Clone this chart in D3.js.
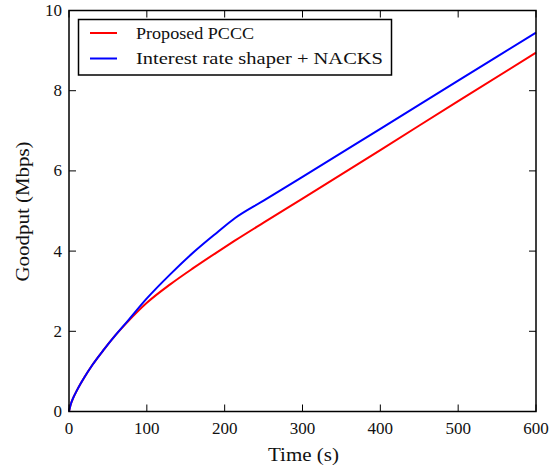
<!DOCTYPE html>
<html><head><meta charset="utf-8">
<script src="https://cdn.jsdelivr.net/npm/d3@7"></script>
<style>body{margin:0;background:#fff}svg{display:block}text{font-family:"Liberation Serif","Times New Roman",serif;fill:#111}</style>
</head><body>
<script>
const time  = [0, 2, 5, 10, 20, 30, 45, 60, 75, 100, 130, 160, 190, 213, 250, 300, 400, 500, 600];
const pccc  = [0, 0.16, 0.32, 0.52, 0.86, 1.16, 1.55, 1.91, 2.23, 2.71, 3.17, 3.58, 3.97, 4.26, 4.71, 5.31, 6.52, 7.74, 8.95];
const shaper= [0, 0.16, 0.32, 0.52, 0.86, 1.16, 1.55, 1.91, 2.25, 2.82, 3.42, 3.97, 4.46, 4.82, 5.26, 5.85, 7.05, 8.25, 9.45];
const seriesNames = ["Proposed PCCC", "Interest rate shaper + NACKS"];
const seriesColors = ["#ff0000", "#0000ff"];
const xTicks = [0, 100, 200, 300, 400, 500, 600];
const yTicks = [0, 2, 4, 6, 8, 10];

const W = 559, H = 468;
const m = {l: 69, r: 23, t: 10.5, b: 56.5};
const svg = d3.select("body").append("svg").attr("width", W).attr("height", H);
const x = d3.scaleLinear().domain([0, 600]).range([m.l, W - m.r]);
const y = d3.scaleLinear().domain([0, 10]).range([H - m.b, m.t]);
const fs = 17;

// lines
const series = [pccc, shaper];
const line = d3.line().x((d, i) => x(time[i])).y(d => y(d)).curve(d3.curveMonotoneX);
series.forEach((s, k) => {
  svg.append("path").datum(s).attr("d", line).attr("fill", "none")
    .attr("stroke", seriesColors[k]).attr("stroke-width", 2);
});

// ticks (inward, all four sides)
const tl = 7;
const g = svg.append("g").attr("stroke", "#000").attr("stroke-width", 1);
xTicks.forEach(t => {
  g.append("line").attr("x1", x(t)).attr("x2", x(t)).attr("y1", y(0)).attr("y2", y(0) - tl);
  g.append("line").attr("x1", x(t)).attr("x2", x(t)).attr("y1", y(10)).attr("y2", y(10) + tl);
  svg.append("text").attr("x", x(t)).attr("y", y(0) + 22).attr("text-anchor", "middle")
    .attr("font-size", fs).text(t);
});
yTicks.forEach(t => {
  g.append("line").attr("x1", x(0)).attr("x2", x(0) + tl).attr("y1", y(t)).attr("y2", y(t));
  g.append("line").attr("x1", x(600)).attr("x2", x(600) - tl).attr("y1", y(t)).attr("y2", y(t));
  svg.append("text").attr("x", x(0) - 7).attr("y", y(t) + 5.5).attr("text-anchor", "end")
    .attr("font-size", fs).text(t);
});

// frame
svg.append("rect").attr("x", x(0)).attr("y", y(10)).attr("width", x(600) - x(0)).attr("height", y(0) - y(10))
  .attr("fill", "none").attr("stroke", "#000").attr("stroke-width", 1.5);

// axis labels
svg.append("text").attr("x", 303.5).attr("y", 461).attr("text-anchor", "middle")
  .attr("font-size", fs + 1).attr("textLength", 71).attr("lengthAdjust", "spacingAndGlyphs").text("Time (s)");
svg.append("text").attr("transform", `translate(29,211.5) rotate(-90)`)
  .attr("text-anchor", "middle").attr("font-size", fs + 1)
  .attr("textLength", 140).attr("lengthAdjust", "spacingAndGlyphs").text("Goodput (Mbps)");

// legend
const lg = svg.append("g");
lg.append("rect").attr("x", 78.5).attr("y", 19.5).attr("width", 313).attr("height", 55.5)
  .attr("fill", "#fff").attr("stroke", "#000").attr("stroke-width", 1.5);
const legLens = [118, 247];
seriesNames.forEach((n, k) => {
  const yy = 33 + k * 25.5;
  lg.append("line").attr("x1", 90).attr("x2", 117).attr("y1", yy).attr("y2", yy)
    .attr("stroke", seriesColors[k]).attr("stroke-width", 2);
  lg.append("text").attr("x", 136).attr("y", yy + 5.5).attr("font-size", fs)
    .attr("textLength", legLens[k]).attr("lengthAdjust", "spacingAndGlyphs").text(n);
});
</script>
</body></html>
